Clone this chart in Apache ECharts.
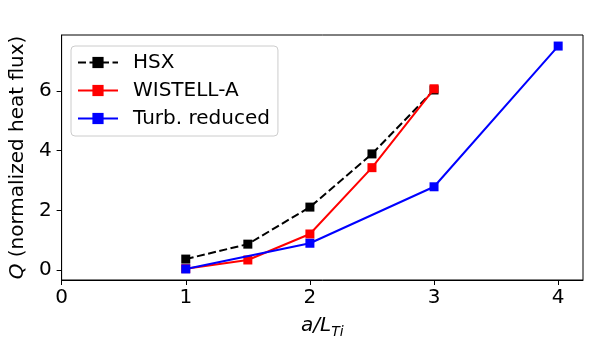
<!DOCTYPE html>
<html>
<head>
<meta charset="utf-8">
<script src="https://cdn.jsdelivr.net/npm/echarts@6/dist/echarts.min.js"></script>
<style>
  html, body { margin: 0; padding: 0; background: #fff; }
  #main { width: 600px; height: 350px; }
</style>
</head>
<body>
<div id="main"></div>
<script>
// a/L_Ti scan
var hsxX = [1, 1.5, 2, 2.5, 3];
var hsxQ = [0.37, 0.87, 2.11, 3.89, 6.03];
var wistellX = [1, 1.5, 2, 2.5, 3];
var wistellQ = [0.05, 0.34, 1.21, 3.43, 6.07];
var turbX = [1, 2, 3, 4];
var turbQ = [0.04, 0.90, 2.79, 7.50];
var xTicks = [0, 1, 2, 3, 4];
var yTicks = [0, 2, 4, 6];

function pairs(xs, ys) {
    var out = [];
    for (var i = 0; i < xs.length; i++) out.push([xs[i], ys[i]]);
    return out;
}

var font = 'DejaVu Sans';
var fs = 20;
var chart = echarts.init(document.getElementById('main'));

var option = {
    animation: false,
    textStyle: { fontFamily: font },
    grid: {
        left: 60, top: 35, right: 17, bottom: 70,
        show: true, borderColor: '#000', borderWidth: 1, backgroundColor: 'transparent'
    },
    legend: {
        orient: 'vertical',
        left: 71, top: 46,
        padding: [6, 8, 7, 6],
        itemWidth: 40, itemHeight: 14, itemGap: 7,
        borderColor: '#cccccc', borderWidth: 1, borderRadius: 4,
        backgroundColor: 'rgba(255,255,255,0.8)',
        textStyle: { fontFamily: font, fontSize: fs, color: '#000', lineHeight: 21, padding: [0, 0, 0, 10] },
        data: ['HSX', 'WISTELL-A', 'Turb. reduced']
    },
    xAxis: {
        type: 'value', min: 0, max: 4.2,
        name: '{i|a/L}{s|Ti}',
        nameLocation: 'middle', nameGap: 33,
        nameTextStyle: {
            rich: {
                i: { fontFamily: font, fontSize: fs, fontStyle: 'italic', color: '#000', lineHeight: 26, verticalAlign: 'middle' },
                s: { fontFamily: font, fontSize: 14, fontStyle: 'italic', color: '#000', lineHeight: 26, verticalAlign: 'bottom', padding: [8, 0, 0, 0] }
            }
        },
        splitLine: { show: false },
        axisLine: { show: true, onZero: false, lineStyle: { color: '#000', width: 1 } },
        axisTick: { show: true, length: 5, customValues: xTicks, lineStyle: { color: '#000' } },
        axisLabel: { customValues: xTicks, fontFamily: font, fontSize: fs, color: '#000', margin: 8 }
    },
    yAxis: {
        type: 'value', min: -0.33, max: 7.87,
        name: '{i|Q} (normalized heat flux)',
        nameLocation: 'middle', nameGap: 24, nameRotate: 90,
        nameTextStyle: {
            fontFamily: font, fontSize: fs, color: '#000',
            rich: { i: { fontFamily: font, fontSize: fs, fontStyle: 'italic', color: '#000' } }
        },
        splitLine: { show: false },
        axisLine: { show: true, onZero: false, lineStyle: { color: '#000', width: 1 } },
        axisTick: { show: true, length: 5, customValues: yTicks, lineStyle: { color: '#000' } },
        axisLabel: { customValues: yTicks, fontFamily: font, fontSize: fs, color: '#000', margin: 10 }
    },
    series: [
        {
            name: 'HSX', type: 'line', data: pairs(hsxX, hsxQ),
            symbol: 'rect', symbolSize: 9, z: 2,
            itemStyle: { color: '#000000' },
            lineStyle: { color: '#000000', width: 2, type: [8, 3.5] }
        },
        {
            name: 'WISTELL-A', type: 'line', data: pairs(wistellX, wistellQ),
            symbol: 'rect', symbolSize: 9, z: 3,
            itemStyle: { color: '#ff0000' },
            lineStyle: { color: '#ff0000', width: 2 }
        },
        {
            name: 'Turb. reduced', type: 'line', data: pairs(turbX, turbQ),
            symbol: 'rect', symbolSize: 9, z: 4,
            itemStyle: { color: '#0000ff' },
            lineStyle: { color: '#0000ff', width: 2 }
        }
    ]
};

chart.setOption(option);
</script>
</body>
</html>
